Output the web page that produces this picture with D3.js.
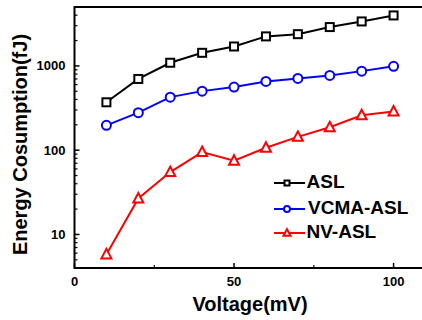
<!DOCTYPE html>
<html>
<head>
<meta charset="utf-8">
<script src="https://cdn.jsdelivr.net/npm/d3@7"></script>
<style>
  body { margin: 0; background: #fff; }
  svg text { font-family: Arial, "Liberation Sans", sans-serif; font-weight: bold; }
</style>
</head>
<body>
<svg width="422" height="320"></svg>
<script>
(function () {
  "use strict";

  var voltage = [10, 20, 30, 40, 50, 60, 70, 80, 90, 100];
  var asl = [370, 700, 1090, 1430, 1700, 2240, 2380, 2890, 3370, 3970];
  var vcmaAsl = [197, 279, 426, 502, 561, 655, 711, 771, 867, 990];
  var nvAsl = [5.8, 26.7, 55, 95, 75, 107, 144, 187, 260, 288];
  var seriesNames = ["ASL", "VCMA-ASL", "NV-ASL"];
  var xTicks = [0, 50, 100];
  var yTicks = [10, 100, 1000];

  var svg = d3.select("svg");
  var left = 74.5, top = 7, bottom = 268, right = 425.5;

  var x = d3.scaleLinear().domain([0, 110]).range([left, right]);
  var y = d3.scaleLog().domain([4, 5000]).range([bottom, top]);

  var colors = ["#000000", "#0000ff", "#ff0000"];
  var allSeries = [asl, vcmaAsl, nvAsl];

  // frame
  svg.append("rect")
    .attr("x", left).attr("y", top)
    .attr("width", right - left).attr("height", bottom - top)
    .attr("fill", "none").attr("stroke", "#000").attr("stroke-width", 2);

  // y axis (ticks inward)
  var minor = [];
  for (var e = 0; e < 4; e++) {
    for (var k = 2; k < 10; k++) {
      var v = k * Math.pow(10, e);
      if (v >= 4 && v <= 5000) minor.push(v);
    }
  }
  var yAxis = svg.append("g").attr("transform", "translate(" + left + ",0)");
  yAxis.selectAll(".minor").data(minor).enter().append("line")
    .attr("x1", 0).attr("x2", 3)
    .attr("y1", function (d) { return y(d); })
    .attr("y2", function (d) { return y(d); })
    .attr("stroke", "#000").attr("stroke-width", 1.2);
  yAxis.selectAll(".major").data(yTicks).enter().append("line")
    .attr("x1", 0).attr("x2", 5)
    .attr("y1", function (d) { return y(d); })
    .attr("y2", function (d) { return y(d); })
    .attr("stroke", "#000").attr("stroke-width", 1.5);
  yAxis.selectAll("text").data(yTicks).enter().append("text")
    .attr("x", -9)
    .attr("y", function (d) { return y(d); })
    .attr("dy", "0.35em")
    .attr("text-anchor", "end")
    .attr("font-size", 13)
    .text(function (d) { return d; });

  // x axis
  var xAxis = svg.append("g");
  xAxis.selectAll(".major").data(xTicks).enter().append("line")
    .attr("x1", function (d) { return x(d); })
    .attr("x2", function (d) { return x(d); })
    .attr("y1", bottom).attr("y2", bottom - 5)
    .attr("stroke", "#000").attr("stroke-width", 1.5);
  xAxis.selectAll(".minor").data([25, 75]).enter().append("line")
    .attr("x1", function (d) { return x(d); })
    .attr("x2", function (d) { return x(d); })
    .attr("y1", bottom).attr("y2", bottom - 3)
    .attr("stroke", "#000").attr("stroke-width", 1.2);
  xAxis.selectAll("text").data(xTicks).enter().append("text")
    .attr("x", function (d) { return x(d); })
    .attr("y", 286)
    .attr("text-anchor", "middle")
    .attr("font-size", 13)
    .text(function (d) { return d; });

  // axis titles
  svg.append("text")
    .attr("x", 250).attr("y", 311)
    .attr("text-anchor", "middle")
    .attr("font-size", 20)
    .text("Voltage(mV)");
  svg.append("text")
    .attr("transform", "translate(27,144.5) rotate(-90)")
    .attr("text-anchor", "middle")
    .attr("font-size", 20)
    .text("Energy Cosumption(fJ)");

  var line = d3.line()
    .x(function (d, i) { return x(voltage[i]); })
    .y(function (d) { return y(d); });

  function marker(g, i, cx, cy, size) {
    if (i === 0) {
      g.append("rect")
        .attr("x", cx - size / 2).attr("y", cy - size / 2)
        .attr("width", size).attr("height", size);
    } else if (i === 1) {
      g.append("circle").attr("cx", cx).attr("cy", cy).attr("r", size / 2 + 0.5);
    } else {
      var s = size + 2;
      g.append("path").attr("d",
        "M" + cx + "," + (cy - s * 0.55) +
        "L" + (cx + s / 2) + "," + (cy + s * 0.4) +
        "L" + (cx - s / 2) + "," + (cy + s * 0.4) + "Z");
    }
  }

  allSeries.forEach(function (data, i) {
    var g = svg.append("g")
      .attr("stroke", colors[i]).attr("stroke-width", 2).attr("fill", "#fff");
    g.append("path").datum(data).attr("d", line).attr("fill", "none");
    data.forEach(function (d, j) {
      marker(g, i, x(voltage[j]), y(d), 8);
    });
  });

  // legend
  var legendY = [183, 209, 233];
  seriesNames.forEach(function (name, i) {
    var g = svg.append("g")
      .attr("stroke", colors[i]).attr("stroke-width", 2).attr("fill", "#fff");
    g.append("line")
      .attr("x1", 274).attr("x2", 305)
      .attr("y1", legendY[i]).attr("y2", legendY[i]);
    marker(g, i, 287, legendY[i], 5);
    svg.append("text")
      .attr("x", i === 1 ? 308 : 306.5)
      .attr("y", legendY[i] - 2)
      .attr("dy", "0.36em")
      .attr("font-size", 19)
      .attr("fill", "#000")
      .text(name);
  });
})();
</script>
</body>
</html>
